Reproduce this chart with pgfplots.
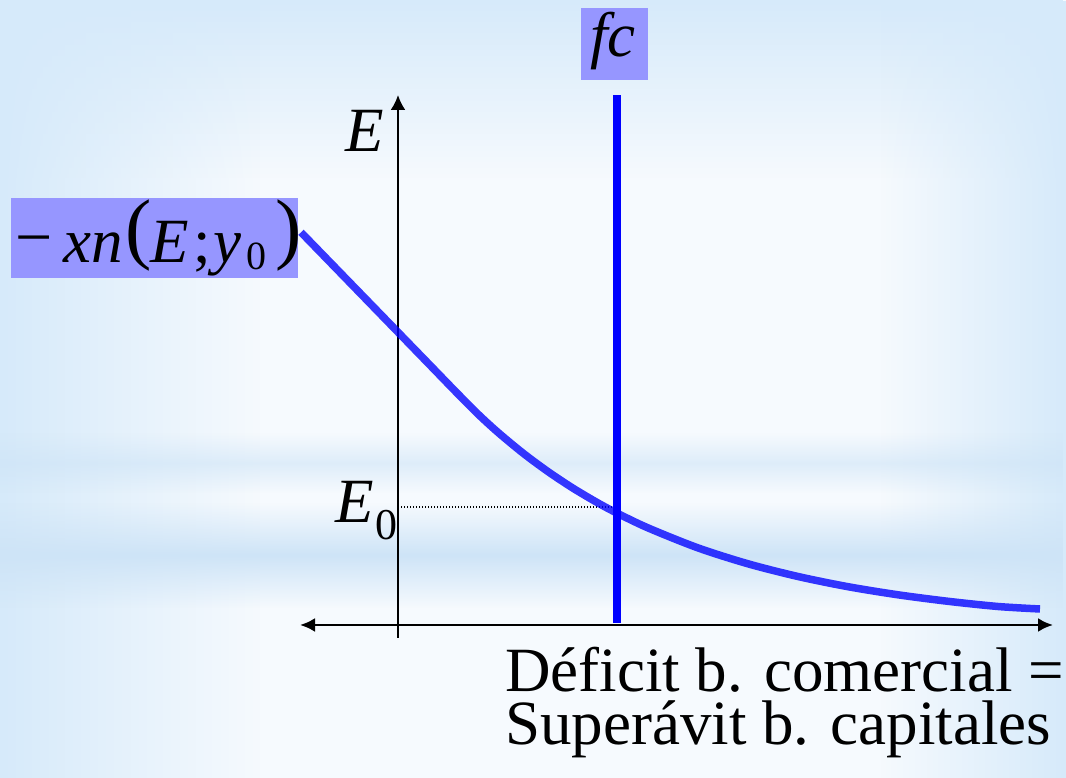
\documentclass[border=0pt]{standalone}
\usepackage{pgfplots}
\pgfplotsset{compat=1.18}
\usepackage{fontspec}
\setmainfont{Liberation Serif}
\usetikzlibrary{arrows.meta,fadings}
\definecolor{lblbox}{RGB}{150,150,255}
\definecolor{bgBase}{RGB}{246,250,254}
\definecolor{bgEdge}{RGB}{214,234,250}
\definecolor{bgBand}{RGB}{206,228,247}
\newcommand{\fs}[1]{\fontsize{#1}{#1}\selectfont}
\begin{document}
\begin{tikzpicture}[x=1pt,y=1pt]
\useasboundingbox (0,0) rectangle (1066,778);
% background
\fill[bgBase] (0,0) rectangle (1066,778);
\fill[bgEdge, path fading=south] (0,600) rectangle (1066,778);
\fill[bgEdge, path fading=east] (0,0) rectangle (260,778);
\fill[bgEdge, path fading=west] (880,0) rectangle (1066,778);
% bands
\fill[bgBand, path fading=north, opacity=0.6] (0,315) rectangle (1066,345);
\fill[bgBand, path fading=south, opacity=0.6] (0,285) rectangle (1066,315);
\fill[bgBand, path fading=north] (0,223) rectangle (1066,275);
\fill[bgBand, path fading=south] (0,170) rectangle (1066,223);

\begin{axis}[
  at={(300,140)}, anchor=south west,
  scale only axis, width=753pt, height=543pt,
  xmin=-98, xmax=655, ymin=-13, ymax=530,
  axis lines=middle, xtick=\empty, ytick=\empty,
  every inner x axis line/.append style={{Latex[length=15pt,width=14pt]}-{Latex[length=15pt,width=14pt]}, line width=2.6pt},
  every inner y axis line/.append style={-{Latex[length=15pt,width=15pt]}, line width=2.2pt},
  clip=false]
\addplot[black, line width=1.2pt, dash pattern=on 1.2pt off 1.8pt] coordinates {(0,118) (219,118)};
\addplot[blue, line width=7.5pt] coordinates {(219,2) (219,530)};
\addplot[blue, opacity=0.78, line width=7.5pt, smooth] coordinates {
 (-97,392.7) (-50,344.3) (0,292.8) (30,261.9) (59,232) (80,210.9) (100,192.6)
 (125,171.9) (150,153.4) (175,136.8) (200,122) (219,111.9) (250,97.1)
 (300,77.1) (350,61.2) (400,48.5) (450,38.3) (500,30.2) (550,23.7)
 (600,18.5) (642,16)};
\end{axis}

% labels
\node[anchor=base west, inner sep=0, font=\fs{63}\itshape] at (345,626) {E};
\node[anchor=base west, inner sep=0, font=\fs{63}\itshape] at (335,255) {E};
\node[anchor=base west, inner sep=0, font=\fs{44}] at (375,238) {0};

\fill[lblbox] (11,500) rectangle (298,580);
\node[anchor=base west, inner sep=0, font=\fs{66}] at (15,518) {−};
\node[anchor=base west, inner sep=0, font=\fs{63}\itshape] at (63,515) {xn};
\node[anchor=base west, inner sep=0, font=\fs{79}] at (125,523) {(};
\node[anchor=base west, inner sep=0, font=\fs{63}\itshape] at (150,515) {E};
\node[anchor=base west, inner sep=0, font=\fs{63}] at (193,515) {;};
\node[anchor=base west, inner sep=0, font=\fs{63}\itshape] at (213,515) {y};
\node[anchor=base west, inner sep=0, font=\fs{40}] at (246,508) {0};
\node[anchor=base west, inner sep=0, font=\fs{79}] at (275,523) {)};

\fill[lblbox] (581,698) rectangle (648,770);
\node[anchor=base west, inner sep=0, font=\fs{63}\itshape] at (590,721) {fc};

\node[anchor=base west, inner sep=0, font=\fs{63}] at (505,86) {Déficit b. comercial =};
\node[anchor=base west, inner sep=0, font=\fs{63}] at (505,33) {Superávit b. capitales};
\end{tikzpicture}
\end{document}
